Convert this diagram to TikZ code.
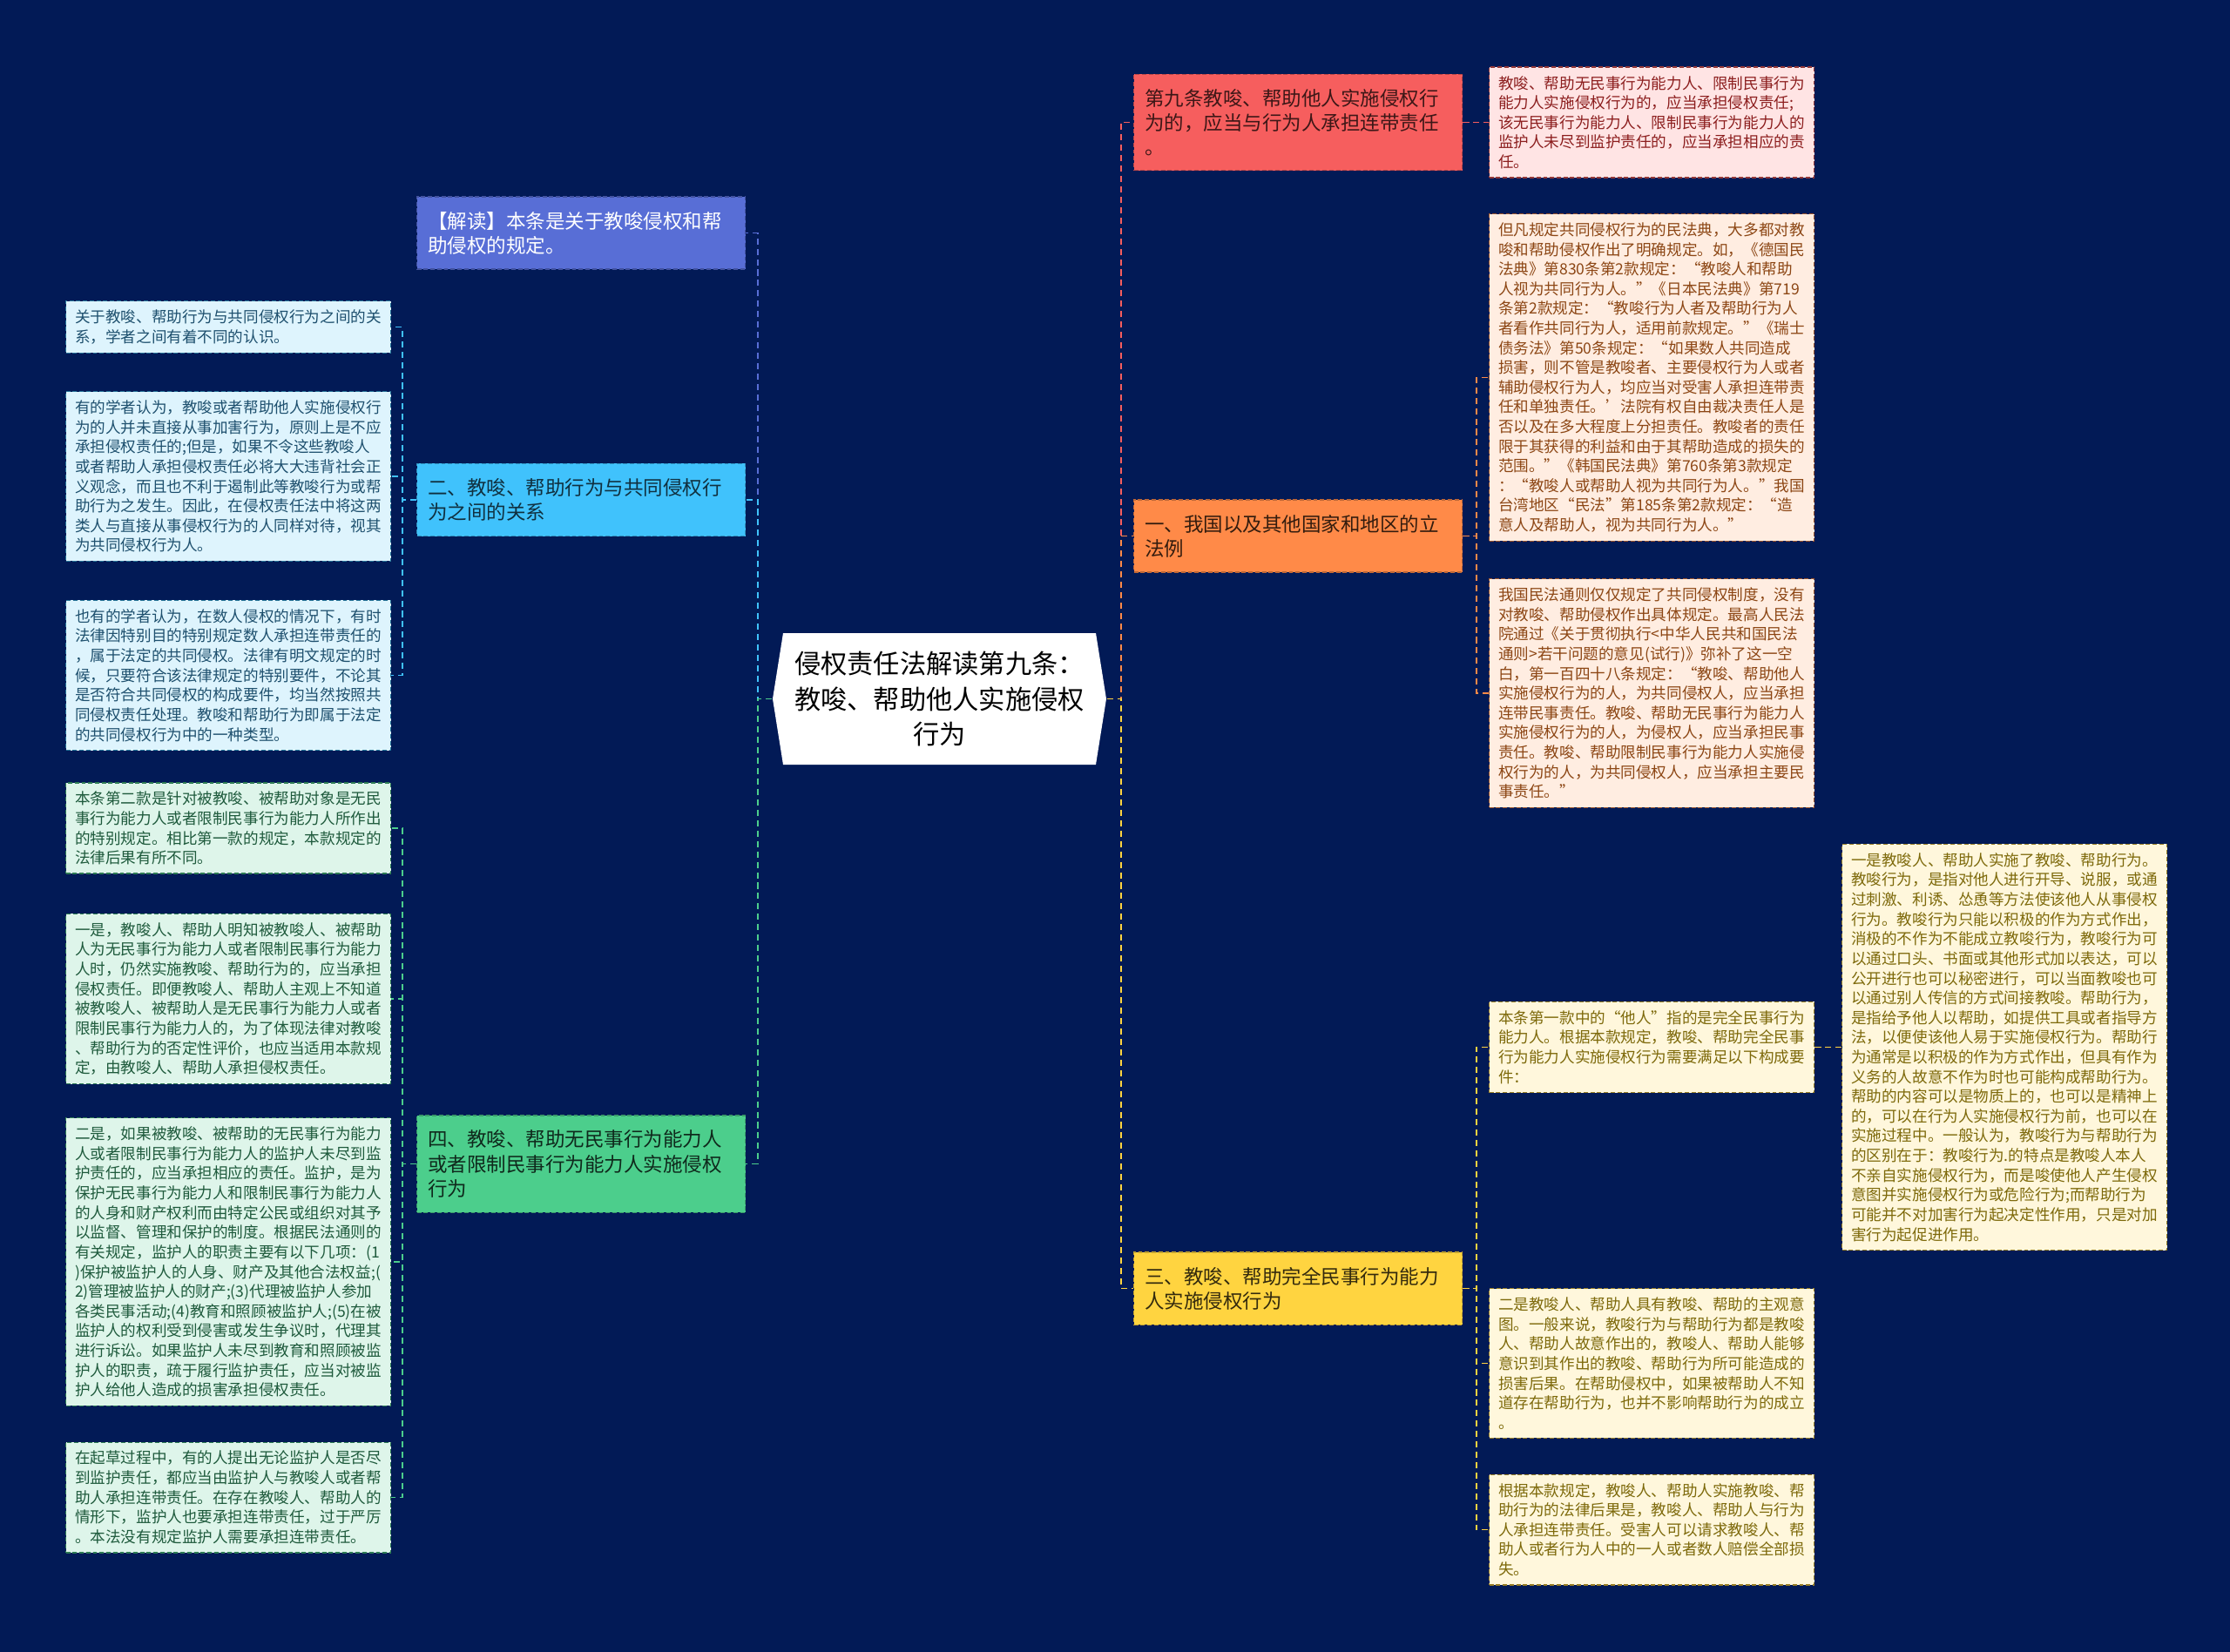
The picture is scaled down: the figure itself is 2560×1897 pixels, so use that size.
\documentclass[tikz,border=0pt]{standalone}
\usepackage{fontspec}
\usepackage{xcolor}
\newfontfamily\cjk{Noto Sans CJK SC}
\usetikzlibrary{positioning, calc}

% ---- colours ----
\definecolor{bgnavy}{RGB}{2,26,86}
\definecolor{cJiedu}{RGB}{88,110,214}
\definecolor{cEr}{RGB}{64,194,252}
\definecolor{cSi}{RGB}{76,206,140}
\definecolor{cJiu}{RGB}{246,94,94}
\definecolor{cYi}{RGB}{255,138,72}
\definecolor{cSan}{RGB}{255,212,64}
\definecolor{fJiu}{RGB}{255,228,228}
\definecolor{tJiu}{RGB}{140,30,30}
\definecolor{fYi}{RGB}{255,237,225}
\definecolor{tYi}{RGB}{140,70,20}
\definecolor{fSan}{RGB}{255,247,220}
\definecolor{tSan}{RGB}{125,105,10}
\definecolor{fEr}{RGB}{222,244,253}
\definecolor{tEr}{RGB}{30,80,110}
\definecolor{fSi}{RGB}{222,245,234}
\definecolor{tSi}{RGB}{30,90,60}

\tikzset{
  rootbox/.style={text=black, align=center, minimum width=3.83cm, minimum height=1.51cm,
    inner sep=0pt, font=\cjk\fontsize{8.6pt}{11.4pt}\selectfont},
  branchbox/.style n args={2}{fill=#1, text=#2, draw=#1!75!black, line width=0.35pt,
    dash pattern=on 1.4pt off 0.8pt, text width=3.52cm, inner xsep=0.125cm, inner ysep=0.17cm,
    align=left, anchor=west, font=\cjk\fontsize{6.4pt}{8pt}\selectfont},
  leafbox/.style n args={3}{fill=#1, text=#2, draw=#3, line width=0.35pt,
    dash pattern=on 1.4pt off 0.8pt, text width=3.52cm, inner xsep=0.105cm, inner ysep=0.1cm,
    align=left, anchor=west, font=\cjk\fontsize{5pt}{6.43pt}\selectfont},
  link/.style={draw=#1, line width=0.55pt, dash pattern=on 2pt off 1.4pt},
}

\begin{document}
\begin{tikzpicture}[x=0.01cm, y=-0.01cm]

% ---- 0. canvas ----
\fill[bgnavy] (0,0) rectangle (2560,1897);
\useasboundingbox (0,0) rectangle (2560,1897);

% ---- 1. root (flat hexagon) ----
\pgfmathsetmacro{\rxL}{887}
\pgfmathsetmacro{\rxR}{1270}
\pgfmathsetmacro{\ryT}{727}
\pgfmathsetmacro{\ryB}{878}
\pgfmathsetmacro{\rcy}{0.5*(\ryT+\ryB)}
\pgfmathsetmacro{\tip}{12}
\fill[white] (\rxL+\tip,\ryT) -- (\rxR-\tip,\ryT) -- (\rxR,\rcy)
  -- (\rxR-\tip,\ryB) -- (\rxL+\tip,\ryB) -- (\rxL,\rcy) -- cycle;
\node[rootbox] (root) at ({0.5*(\rxL+\rxR)},\rcy)
  {侵权责任法解读第九条：\\教唆、帮助他人实施侵权\\行为};

% bus lines
\coordinate (lbus) at (870,0);
\coordinate (rbus) at (1287,0);
\coordinate (lleaf) at (462,0);
\coordinate (rleaf) at (1695,0);
\coordinate (dleaf) at (2098,0);

% ---- 2. left branches ----
\node[branchbox={cJiedu}{white}] (jiedu) at (478,267.5)
  {【解读】本条是关于教唆侵权和帮\\助侵权的规定。};
\node[branchbox={cEr}{black!75!cEr}] (er) at (478,574)
  {二、教唆、帮助行为与共同侵权行\\为之间的关系};
\node[branchbox={cSi}{black!80!cSi}] (si) at (478,1336.5)
  {四、教唆、帮助无民事行为能力人\\或者限制民事行为能力人实施侵权\\行为};

% ---- 3. right branches ----
\node[branchbox={cJiu}{black!75!cJiu}] (jiu) at (1301,140.5)
  {第九条教唆、帮助他人实施侵权行\\为的，应当与行为人承担连带责任\\。};
\node[branchbox={cYi}{black!80!cYi}] (yi) at (1301,615.5)
  {一、我国以及其他国家和地区的立\\法例};
\node[branchbox={cSan}{black!80!cSan}] (san) at (1301,1479.5)
  {三、教唆、帮助完全民事行为能力\\人实施侵权行为};

% ---- 4. left leaves ----
\node[leafbox={fEr}{tEr}{cEr!60!black}] (L1) at (75,375.5)
  {关于教唆、帮助行为与共同侵权行为之间的关\\系，学者之间有着不同的认识。};
\node[leafbox={fEr}{tEr}{cEr!60!black}] (L2) at (75,547)
  {有的学者认为，教唆或者帮助他人实施侵权行\\为的人并未直接从事加害行为，原则上是不应\\承担侵权责任的;但是，如果不令这些教唆人\\或者帮助人承担侵权责任必将大大违背社会正\\义观念，而且也不利于遏制此等教唆行为或帮\\助行为之发生。因此，在侵权责任法中将这两\\类人与直接从事侵权行为的人同样对待，视其\\为共同侵权行为人。};
\node[leafbox={fEr}{tEr}{cEr!60!black}] (L3) at (75,775.5)
  {也有的学者认为，在数人侵权的情况下，有时\\法律因特别目的特别规定数人承担连带责任的\\，属于法定的共同侵权。法律有明文规定的时\\候，只要符合该法律规定的特别要件，不论其\\是否符合共同侵权的构成要件，均当然按照共\\同侵权责任处理。教唆和帮助行为即属于法定\\的共同侵权行为中的一种类型。};
\node[leafbox={fSi}{tSi}{cSi!60!black}] (L4) at (75,951)
  {本条第二款是针对被教唆、被帮助对象是无民\\事行为能力人或者限制民事行为能力人所作出\\的特别规定。相比第一款的规定，本款规定的\\法律后果有所不同。};
\node[leafbox={fSi}{tSi}{cSi!60!black}] (L5) at (75,1147)
  {一是，教唆人、帮助人明知被教唆人、被帮助\\人为无民事行为能力人或者限制民事行为能力\\人时，仍然实施教唆、帮助行为的，应当承担\\侵权责任。即便教唆人、帮助人主观上不知道\\被教唆人、被帮助人是无民事行为能力人或者\\限制民事行为能力人的，为了体现法律对教唆\\、帮助行为的否定性评价，也应当适用本款规\\定，由教唆人、帮助人承担侵权责任。};
\node[leafbox={fSi}{tSi}{cSi!60!black}] (L6) at (75,1449)
  {二是，如果被教唆、被帮助的无民事行为能力\\人或者限制民事行为能力人的监护人未尽到监\\护责任的，应当承担相应的责任。监护，是为\\保护无民事行为能力人和限制民事行为能力人\\的人身和财产权利而由特定公民或组织对其予\\以监督、管理和保护的制度。根据民法通则的\\有关规定，监护人的职责主要有以下几项：(1\\)保护被监护人的人身、财产及其他合法权益;(\\2)管理被监护人的财产;(3)代理被监护人参加\\各类民事活动;(4)教育和照顾被监护人;(5)在被\\监护人的权利受到侵害或发生争议时，代理其\\进行诉讼。如果监护人未尽到教育和照顾被监\\护人的职责，疏于履行监护责任，应当对被监\\护人给他人造成的损害承担侵权责任。};
\node[leafbox={fSi}{tSi}{cSi!60!black}] (L7) at (75,1719.5)
  {在起草过程中，有的人提出无论监护人是否尽\\到监护责任，都应当由监护人与教唆人或者帮\\助人承担连带责任。在存在教唆人、帮助人的\\情形下，监护人也要承担连带责任，过于严厉\\。本法没有规定监护人需要承担连带责任。};

% ---- 5. right leaves ----
\node[leafbox={fJiu}{tJiu}{cJiu!60!black}] (A) at (1709,140.5)
  {教唆、帮助无民事行为能力人、限制民事行为\\能力人实施侵权行为的，应当承担侵权责任;\\该无民事行为能力人、限制民事行为能力人的\\监护人未尽到监护责任的，应当承担相应的责\\任。};
\node[leafbox={fYi}{tYi}{cYi!60!black}] (B1) at (1709,433.5)
  {但凡规定共同侵权行为的民法典，大多都对教\\唆和帮助侵权作出了明确规定。如，《德国民\\法典》第830条第2款规定：“教唆人和帮助\\人视为共同行为人。”《日本民法典》第719\\条第2款规定：“教唆行为人者及帮助行为人\\者看作共同行为人，适用前款规定。”《瑞士\\债务法》第50条规定：“如果数人共同造成\\损害，则不管是教唆者、主要侵权行为人或者\\辅助侵权行为人，均应当对受害人承担连带责\\任和单独责任。’法院有权自由裁决责任人是\\否以及在多大程度上分担责任。教唆者的责任\\限于其获得的利益和由于其帮助造成的损失的\\范围。”《韩国民法典》第760条第3款规定\\：“教唆人或帮助人视为共同行为人。”我国\\台湾地区“民法”第185条第2款规定：“造\\意人及帮助人，视为共同行为人。”};
\node[leafbox={fYi}{tYi}{cYi!60!black}] (B2) at (1709,796)
  {我国民法通则仅仅规定了共同侵权制度，没有\\对教唆、帮助侵权作出具体规定。最高人民法\\院通过《关于贯彻执行<中华人民共和国民法\\通则>若干问题的意见(试行)》弥补了这一空\\白，第一百四十八条规定：“教唆、帮助他人\\实施侵权行为的人，为共同侵权人，应当承担\\连带民事责任。教唆、帮助无民事行为能力人\\实施侵权行为的人，为侵权人，应当承担民事\\责任。教唆、帮助限制民事行为能力人实施侵\\权行为的人，为共同侵权人，应当承担主要民\\事责任。”};
\node[leafbox={fSan}{tSan}{cSan!60!black}] (C1) at (1709,1202.5)
  {本条第一款中的“他人”指的是完全民事行为\\能力人。根据本款规定，教唆、帮助完全民事\\行为能力人实施侵权行为需要满足以下构成要\\件：};
\node[leafbox={fSan}{tSan}{cSan!60!black}] (C2) at (1709,1565.5)
  {二是教唆人、帮助人具有教唆、帮助的主观意\\图。一般来说，教唆行为与帮助行为都是教唆\\人、帮助人故意作出的，教唆人、帮助人能够\\意识到其作出的教唆、帮助行为所可能造成的\\损害后果。在帮助侵权中，如果被帮助人不知\\道存在帮助行为，也并不影响帮助行为的成立\\。};
\node[leafbox={fSan}{tSan}{cSan!60!black}] (C3) at (1709,1756.5)
  {根据本款规定，教唆人、帮助人实施教唆、帮\\助行为的法律后果是，教唆人、帮助人与行为\\人承担连带责任。受害人可以请求教唆人、帮\\助人或者行为人中的一人或者数人赔偿全部损\\失。};
\node[leafbox={fSan}{tSan}{cSan!60!black}] (D) at (2114,1202.5)
  {一是教唆人、帮助人实施了教唆、帮助行为。\\教唆行为，是指对他人进行开导、说服，或通\\过刺激、利诱、怂恿等方法使该他人从事侵权\\行为。教唆行为只能以积极的作为方式作出，\\消极的不作为不能成立教唆行为，教唆行为可\\以通过口头、书面或其他形式加以表达，可以\\公开进行也可以秘密进行，可以当面教唆也可\\以通过别人传信的方式间接教唆。帮助行为，\\是指给予他人以帮助，如提供工具或者指导方\\法，以便使该他人易于实施侵权行为。帮助行\\为通常是以积极的作为方式作出，但具有作为\\义务的人故意不作为时也可能构成帮助行为。\\帮助的内容可以是物质上的，也可以是精神上\\的，可以在行为人实施侵权行为前，也可以在\\实施过程中。一般认为，教唆行为与帮助行为\\的区别在于：教唆行为.的特点是教唆人本人\\不亲自实施侵权行为，而是唆使他人产生侵权\\意图并实施侵权行为或危险行为;而帮助行为\\可能并不对加害行为起决定性作用，只是对加\\害行为起促进作用。};

% ---- 6. links ----
\foreach \b/\c in {jiedu/cJiedu, er/cEr, si/cSi}
  \draw[link=\c] (root.west) -- (root.west -| lbus) |- (\b.east);
\foreach \b/\c in {jiu/cJiu, yi/cYi, san/cSan}
  \draw[link=\c] (root.east) -- (root.east -| rbus) |- (\b.west);

\foreach \b/\l/\c in {er/L1/cEr, er/L2/cEr, er/L3/cEr,
    si/L4/cSi, si/L5/cSi, si/L6/cSi, si/L7/cSi}
  \draw[link=\c] (\b.west) -- (\b.west -| lleaf) |- (\l.east);
\foreach \b/\l/\c in {jiu/A/cJiu, yi/B1/cYi, yi/B2/cYi,
    san/C1/cSan, san/C2/cSan, san/C3/cSan}
  \draw[link=\c] (\b.east) -- (\b.east -| rleaf) |- (\l.west);
\draw[link=cSan] (C1.east) -- (C1.east -| dleaf) |- (D.west);

\end{tikzpicture}
\end{document}
